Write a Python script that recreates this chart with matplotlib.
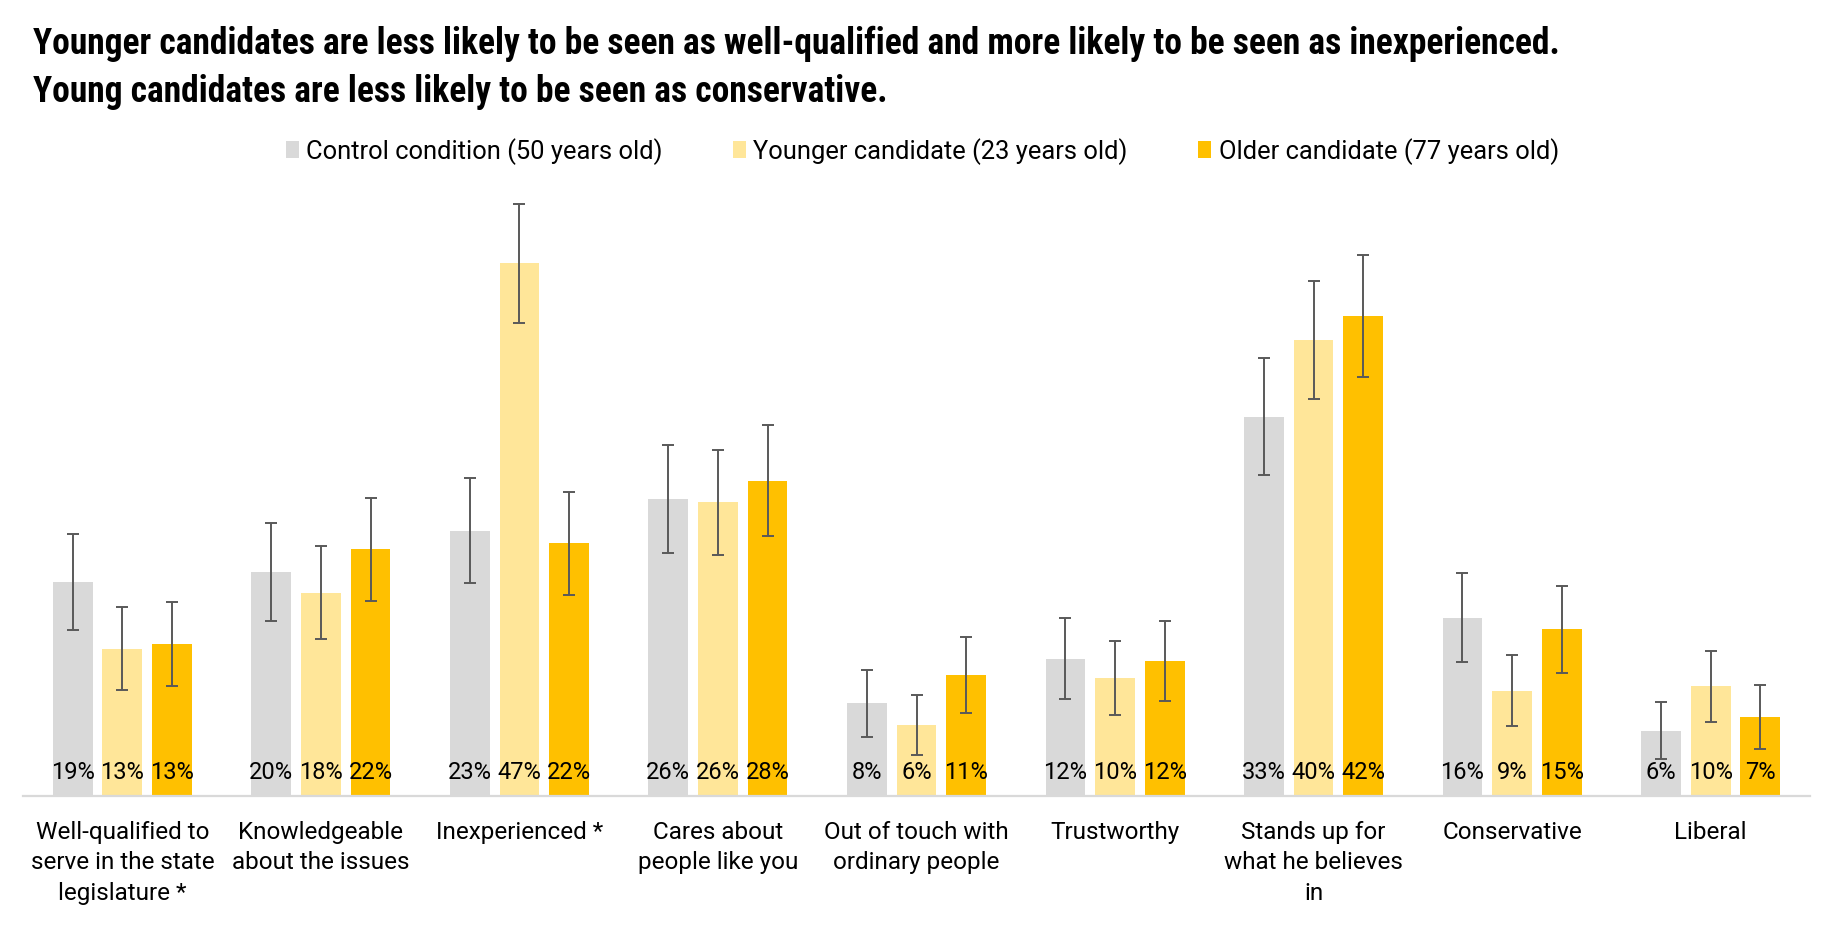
import matplotlib
matplotlib.use("Agg")
import numpy as np
import matplotlib.pyplot as plt

# Data (percent) #
categories = ["Well-qualified to\nserve in the state\nlegislature *",
              "Knowledgeable\nabout the issues",
              "Inexperienced *",
              "Cares about\npeople like you",
              "Out of touch with\nordinary people",
              "Trustworthy",
              "Stands up for\nwhat he believes\nin",
              "Conservative",
              "Liberal"]
series_names = ["Control condition (50 years old)",
                "Younger candidate (23 years old)",
                "Older candidate (77 years old)"]
control = [18.7, 19.6, 23.2, 26.0, 8.1, 12.0, 33.2, 15.6, 5.7]
younger = [12.9, 17.8, 46.6, 25.7, 6.2, 10.3, 39.9, 9.2, 9.6]
older = [13.3, 21.6, 22.1, 27.6, 10.6, 11.8, 42.0, 14.6, 6.9]
control_err = [4.2, 4.3, 4.6, 4.7, 2.95, 3.55, 5.1, 3.9, 2.5]
younger_err = [3.6, 4.1, 5.25, 4.6, 2.6, 3.25, 5.2, 3.1, 3.1]
older_err = [3.7, 4.5, 4.5, 4.85, 3.3, 3.5, 5.35, 3.8, 2.8]

colors = ["#D9D9D9", "#FFE699", "#FFC000"]
plt.rcParams['font.family'] = ['Roboto', 'DejaVu Sans']

fig = plt.figure(figsize=(18.31, 9.28), dpi=100)
ax = fig.add_axes([0.0126, 0.1412, 0.9759, 0.6649])

x = np.arange(len(categories))
width = 0.2
offsets = [-0.25, 0, 0.25]
allvals = [control, younger, older]
allerrs = [control_err, younger_err, older_err]

bars = []
for vals, errs, off, col, name in zip(allvals, allerrs, offsets, colors, series_names):
    b = ax.bar(x + off, vals, width, color=col, label=name, zorder=2)
    bars.append(b)
    ax.errorbar(x + off, vals, yerr=errs, fmt='none', ecolor='#595959',
                elinewidth=1.4, capsize=4.3, capthick=1.4, zorder=3)
    for xi, v in zip(x + off, vals):
        ax.text(xi, 2.1, f"{v:.0f}%", ha='center', va='center',
                fontsize=17, color='black', zorder=4)

ax.set_xlim(-0.5, len(categories) - 0.5)
ax.set_ylim(0, 54)
ax.set_xticks(x)
ax.set_xticklabels(categories, fontsize=17.5, linespacing=1.42)
ax.tick_params(axis='x', length=0, pad=17)
ax.set_yticks([])
for s in ['top', 'right', 'left']:
    ax.spines[s].set_visible(False)
ax.spines['bottom'].set_color('#D9D9D9')
ax.spines['bottom'].set_linewidth(1.6)

# Title #
title_font = ['Roboto Condensed', 'DejaVu Sans']
fig.text(0.018, 1 - 44 / 928, "Younger candidates are less likely to be seen as well-qualified "
         "and more likely to be seen as inexperienced.",
         fontsize=25.6, fontweight='bold', family=title_font, va='center', ha='left')
fig.text(0.018, 1 - 92 / 928, "Young candidates are less likely to be seen as conservative.",
         fontsize=25.6, fontweight='bold', family=title_font, va='center', ha='left')

# Legend #
fig.legend(handles=bars, loc='center', bbox_to_anchor=(0.5037, 1 - 152 / 928),
           ncol=3, frameon=False, fontsize=18.4, handlelength=0.5, handleheight=0.65,
           handletextpad=0.3, columnspacing=2.75)

fig.savefig("out.png", dpi=100)
